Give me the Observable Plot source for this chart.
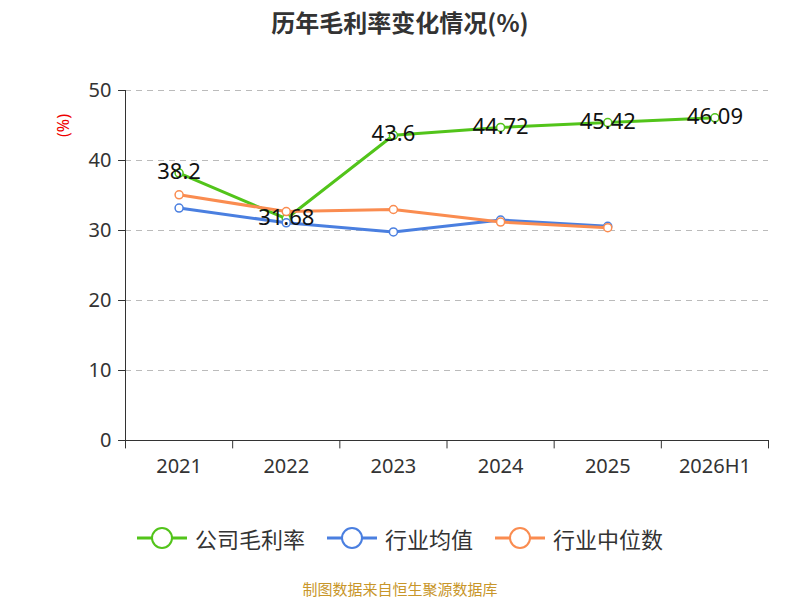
<!DOCTYPE html>
<html><head><meta charset="utf-8">
<script src="https://cdn.jsdelivr.net/npm/d3@7"></script>
<script src="https://cdn.jsdelivr.net/npm/@observablehq/plot@0.6"></script>
<style>
body{margin:0;font-family:"Noto Sans CJK SC","Noto Sans",sans-serif;background:#fff;width:800px;height:600px;position:relative;overflow:hidden}
#title{position:absolute;top:4px;width:800px;text-align:center;font-size:24px;font-weight:bold;color:#333}
#chart{position:absolute;top:0;left:0}
#legend{position:absolute;top:522px;width:800px;display:flex;justify-content:center;gap:22px;font-size:22px;color:#333}
#legend span{display:flex;align-items:center;gap:8px}
#cap{position:absolute;top:578px;width:800px;text-align:center;font-size:15px;color:#c8962a}
</style></head><body>
<div id="chart"></div>
<div id="title">历年毛利率变化情况(%)</div>
<div id="legend"></div>
<div id="cap">制图数据来自恒生聚源数据库</div>
<script>
const categories=["2021","2022","2023","2024","2025","2026H1"];
const company=[38.2,31.68,43.6,44.72,45.42,46.09];
const industryAvg=[33.2,31.1,29.8,31.5,30.6];
const industryMed=[35.1,32.7,33.0,31.2,30.4];
const yTicks=[0,10,20,30,40,50];
const names=["公司毛利率","行业均值","行业中位数"];
const colors=["#52c41a","#4a7fe0","#fa8c50"];
const series=[company,industryAvg,industryMed];
const comp=company.map((v,i)=>({i,v}));
const bounds=d3.range(-0.5,6,1);
const marks=[
  Plot.ruleY(yTicks.filter(t=>t>0),{y:d=>d,x1:-0.5,x2:5.5,stroke:"#bbb",strokeDasharray:"6,5"}),
  Plot.ruleY([0],{x1:-0.5,x2:5.5,stroke:"#333"}),
  Plot.ruleX([-0.5],{y1:0,y2:50,stroke:"#333"}),
  Plot.ruleY(yTicks,{y:d=>d,x1:-0.565,x2:-0.5,stroke:"#333"}),
  Plot.text(yTicks,{x:-0.5,y:d=>d,text:d=>String(d),dx:-14,textAnchor:"end",fontSize:20,fill:"#333"}),
  Plot.ruleX(bounds,{x:d=>d,y1:0,y2:-1.2,stroke:"#333"}),
  Plot.text(categories,{x:(d,i)=>i,y:0,text:d=>d,dy:26,fontSize:20,fill:"#333"}),
  Plot.text(["(%)"],{x:-0.5,y:45,dx:-62,rotate:-90,fill:"#e00",fontSize:16,text:d=>d})
];
names.forEach((n,k)=>{
  const d=series[k].map((v,i)=>({i,v}));
  marks.push(Plot.line(d,{x:"i",y:"v",stroke:colors[k],strokeWidth:3}));
  marks.push(Plot.dot(d,{x:"i",y:"v",r:4,fill:"#fff",stroke:colors[k],strokeWidth:1.5}));
});
marks.push(Plot.text(comp,{x:"i",y:"v",text:d=>String(d.v),fontSize:22,fill:"#111",dy:-1}));
const p=Plot.plot({width:800,height:490,marginTop:90,marginBottom:50,marginLeft:125,marginRight:32,
  x:{type:"linear",domain:[-0.5,5.5],axis:null},y:{type:"linear",domain:[0,50],axis:null},
  style:{fontFamily:"'Noto Sans',sans-serif",overflow:"visible"},marks});
document.getElementById("chart").append(p);
const lg=document.getElementById("legend");
names.forEach((n,k)=>{
  lg.insertAdjacentHTML("beforeend",`<span><svg width="50" height="24"><line x1="0" y1="12" x2="50" y2="12" stroke="${colors[k]}" stroke-width="3"/><circle cx="25" cy="12" r="10" fill="#fff" stroke="${colors[k]}" stroke-width="2"/></svg>${n}</span>`);
});
</script></body></html>
